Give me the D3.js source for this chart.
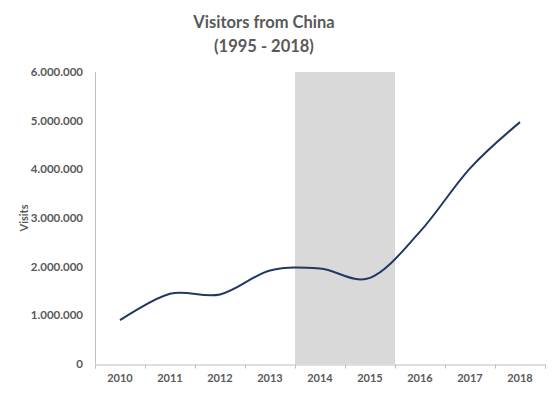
<!DOCTYPE html>
<html lang="en">
<head>
<meta charset="UTF-8">
<script src="https://d3js.org/d3.v7.min.js"></script>
<style>
  body{margin:0;background:#fff;}
  text{font-family:Lato,"Open Sans",sans-serif;fill:#595959;font-weight:bold;}
</style>
</head>
<body>
<div id="chart"></div>
<script>
// data
var years=["2010","2011","2012","2013","2014","2015","2016","2017","2018"];
var visits=[900000,1445000,1430000,1920000,1960000,1770000,2720000,4020000,4970000];
var shaded=["2014","2015"];
var yTicks=[0,1000000,2000000,3000000,4000000,5000000,6000000];

var width=555,height=397,
    margin={left:95,top:72,right:10,bottom:33};

var svg=d3.select('#chart').append('svg')
    .attr('width',width)
    .attr('height',height);

var x=d3.scaleBand().domain(years).range([margin.left,width-margin.right]);
var y=d3.scaleLinear().domain([0,6000000]).range([height-margin.bottom,margin.top]);

// 阴影区域
svg.append('rect')
    .attr('x',x(shaded[0]))
    .attr('y',y(6000000))
    .attr('width',x(shaded[shaded.length-1])+x.bandwidth()-x(shaded[0]))
    .attr('height',y(0)-y(6000000))
    .attr('fill','#d9d9d9');

// y axis line
svg.append('line')
    .attr('x1',margin.left+0.5).attr('x2',margin.left+0.5)
    .attr('y1',y(6000000)).attr('y2',y(0))
    .attr('stroke','#bfbfbf');

// y 刻度
var fmt=function(d){return d3.format(',')(d).replace(/,/g,'.');};
svg.append('g').selectAll('text').data(yTicks).enter().append('text')
    .attr('x',margin.left-12)
    .attr('y',function(d){return y(d);})
    .attr('dy','0.35em')
    .attr('text-anchor','end')
    .style('font-size','11.5px')
    .text(fmt);

// x axis
var xAxis=d3.axisBottom(x).tickSize(4).tickSizeOuter(4).tickPadding(6);
var gx=svg.append('g')
    .attr('transform','translate(0,'+(y(0)+0.5)+')')
    .call(xAxis);
gx.select('.domain').attr('stroke','#bfbfbf');
gx.selectAll('.tick line').remove();
gx.selectAll('.tick text').style('font-size','11px').style('font-family','Lato,sans-serif').attr('fill','#595959');
// 刻度线在类别之间
var bounds=years.map(function(d){return x(d);}).concat([x(years[years.length-1])+x.bandwidth()]);
gx.selectAll('line.sep').data(bounds).enter().append('line')
    .attr('class','sep')
    .attr('x1',function(d){return Math.round(d)+0.5;})
    .attr('x2',function(d){return Math.round(d)+0.5;})
    .attr('y1',0).attr('y2',4)
    .attr('stroke','#bfbfbf');

// 曲线
var line=d3.line()
    .x(function(d,i){return x(years[i])+x.bandwidth()/2;})
    .y(function(d){return y(d);})
    .curve(d3.curveCatmullRom.alpha(0));
svg.append('path')
    .datum(visits)
    .attr('d',line)
    .attr('fill','none')
    .attr('stroke','#203864')
    .attr('stroke-width',2);

// titles
svg.append('text').attr('x',264).attr('y',28).attr('text-anchor','middle')
    .style('font-size','16.5px').text('Visitors from China');
svg.append('text').attr('x',264).attr('y',52).attr('text-anchor','middle')
    .style('font-size','16.5px').text('(1995 - 2018)');
svg.append('text')
    .attr('transform','translate(28,'+((y(0)+y(6000000))/2)+') rotate(-90)')
    .attr('text-anchor','middle')
    .style('font-size','11px')
    .text('Visits');
</script>
</body>
</html>
